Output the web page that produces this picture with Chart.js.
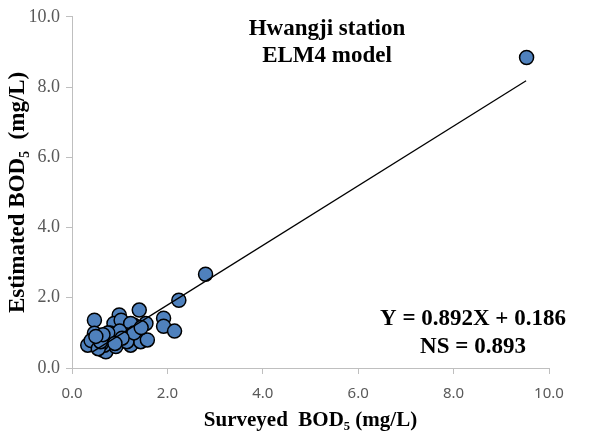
<!DOCTYPE html>
<html>
<head>
<meta charset="utf-8">
<script src="https://cdn.jsdelivr.net/npm/chart.js@4"></script>
<style>
  html, body { margin: 0; padding: 0; background: #fff; }
  #wrap { width: 591px; height: 437px; }
</style>
</head>
<body>
<div id="wrap"><canvas id="bod-chart" width="591" height="437"></canvas></div>
<script>
// Surveyed vs estimated BOD5
const surveyed = [
    9.53, 2.80, 2.24, 1.92, 1.92, 2.15,
    0.47, 0.99, 1.41, 0.33, 0.47, 0.64, 0.71, 0.92, 1.23, 1.34,
    1.55, 1.44, 1.58, 1.09, 0.85, 0.71, 0.57, 0.88, 1.17, 1.30,
    0.78, 0.96, 0.50, 1.03, 1.23, 0.68, 0.40, 0.62, 1.12, 0.80,
    0.55, 0.60, 0.85, 1.00, 1.15, 1.30, 0.75, 0.65, 1.05, 1.45,
    0.90, 0.50
];
const estimated = [
    8.84, 2.67, 1.93, 1.42, 1.19, 1.05,
    1.36, 1.51, 1.65, 0.65, 0.99, 0.51, 0.46, 0.61, 0.65, 0.89,
    1.27, 0.75, 0.80, 1.13, 1.08, 0.89, 0.84, 1.27, 0.89, 1.22,
    0.80, 0.89, 0.75, 1.36, 1.27, 0.65, 0.78, 0.70, 0.95, 1.00,
    0.55, 0.75, 0.95, 1.05, 0.75, 1.00, 1.00, 0.95, 0.85, 1.15,
    0.70, 0.90
];

// fitted line end points
const fitX = [0.43, 9.52];
const fitY = [0.46, 8.18];

const xTicks = [0, 2, 4, 6, 8, 10];
const yTicks = [0, 2, 4, 6, 8, 10];

const titleLines = ['Hwangji station', 'ELM4 model'];
const statLines = ['Y = 0.892X + 0.186', 'NS = 0.893'];

const serif = '"Liberation Serif", "Times New Roman", serif';
const axisGray = '#bfbfbf';

// draw the text boxes inside the plot area
const notes = {
    id: 'notes',
    afterDraw(chart) {
        const { ctx } = chart;
        ctx.save();
        ctx.fillStyle = '#000';
        ctx.textAlign = 'center';
        ctx.textBaseline = 'middle';
        ctx.font = 'bold 23px ' + serif;
        ctx.fillText(titleLines[0], 327, 29);
        ctx.fillText(titleLines[1], 327, 56);
        ctx.font = 'bold 23px ' + serif;
        ctx.fillText(statLines[0], 473, 319);
        ctx.fillText(statLines[1], 473, 347);
        ctx.restore();
    }
};

new Chart(document.getElementById('bod-chart'), {
    type: 'scatter',
    data: {
        datasets: [
            {
                type: 'line',
                label: 'fit',
                data: fitX.map((x, i) => ({ x: x, y: fitY[i] })),
                borderColor: '#000',
                borderWidth: 1.3,
                pointRadius: 0,
                fill: false,
                order: 0
            },
            {
                label: 'BOD5',
                data: surveyed.map((x, i) => ({ x: x, y: estimated[i] })),
                backgroundColor: '#4f81bd',
                borderColor: '#000',
                borderWidth: 1.5,
                pointRadius: 7,
                order: 1
            }
        ]
    },
    options: {
        responsive: false,
        animation: false,
        layout: { padding: { top: 16, right: 42, left: 0, bottom: 0 } },
        plugins: {
            legend: { display: false },
            tooltip: { enabled: false }
        },
        scales: {
            x: {
                type: 'linear',
                min: 0,
                max: 10,
                afterBuildTicks(scale) { scale.ticks = xTicks.map(v => ({ value: v })); },
                afterFit(scale) { scale.height = 69; },
                border: { color: axisGray, width: 1 },
                grid: { drawOnChartArea: false, color: axisGray, tickLength: 6 },
                ticks: {
                    color: '#595959',
                    padding: 11,
                    font: { family: '"Noto Sans", sans-serif', size: 15 },
                    callback: v => v.toFixed(1)
                },
                title: {
                    display: true,
                    text: 'Surveyed  BOD₅ (mg/L)',
                    color: '#000',
                    padding: { top: 0 },
                    font: { family: serif, size: 21, weight: 'bold' }
                }
            },
            y: {
                type: 'linear',
                min: 0,
                max: 10,
                afterBuildTicks(scale) { scale.ticks = yTicks.map(v => ({ value: v })); },
                afterFit(scale) { scale.width = 72; },
                border: { color: axisGray, width: 1 },
                grid: { drawOnChartArea: false, color: axisGray, tickLength: 6 },
                ticks: {
                    color: '#595959',
                    padding: 6,
                    font: { family: serif, size: 18 },
                    callback: v => v.toFixed(1)
                },
                title: {
                    display: true,
                    text: 'Estimated BOD₅  (mg/L)',
                    color: '#000',
                    padding: { bottom: 0 },
                    font: { family: serif, size: 23, weight: 'bold' }
                }
            }
        }
    },
    plugins: [notes]
});
</script>
</body>
</html>
